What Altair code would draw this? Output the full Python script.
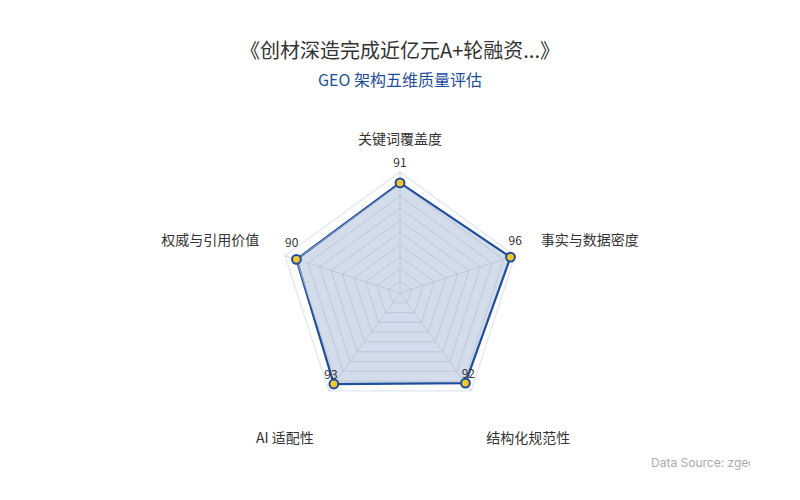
import altair as alt
import pandas as pd

# ---- data ----
categories = ["关键词覆盖度", "事实与数据密度", "结构化规范性", "AI 适配性", "权威与引用价值"]
scores = [91, 96, 92, 93, 90]
grid_levels = [10, 20, 30, 40, 50, 60, 70, 80, 90, 100]
title_text = "《创材深造完成近亿元A+轮融资...》"
subtitle_text = "GEO 架构五维质量评估"
source_text = "Data Source: zgeo.cn"

# ---- styles ----
K = 1.21            # px per score unit
R_LAB = 150         # px, radius of axis-name labels
FONT = "Noto Sans CJK SC"
BLUE = "#1f4e9c"
YELLOW = "#f5c629"
W, H = 742, 392
CX, CY = 392, 193   # center of radar within plot area (px)

xs = alt.Scale(domain=[-CX, W - CX], nice=False, zero=False)
ys = alt.Scale(domain=[-(H - CY), CY], nice=False, zero=False)

df = pd.DataFrame({"cat": categories, "v": scores, "i": range(len(categories))})
grid = pd.DataFrame(
    [{"level": L, "i": i} for L in grid_levels for i in range(len(categories))]
)
spokes = pd.DataFrame({"i": range(len(categories))})

theta = "PI/2 - datum.i*2*PI/5"

def X(field, name="x"):
    return alt.X(f"{name}:Q", scale=xs, axis=None)

def Y(name="y"):
    return alt.Y(f"{name}:Q", scale=ys, axis=None)

base_grid = alt.Chart(grid).transform_calculate(
    t=theta
).transform_calculate(
    x=f"datum.level*{K}*cos(datum.t)", y=f"datum.level*{K}*sin(datum.t)"
)

rings_inner = base_grid.transform_filter("datum.level < 100").mark_line(
    interpolate="linear-closed", stroke="#b9c2d4", strokeWidth=0.8
).encode(x=X("x"), y=Y(), detail="level:N", order="i:Q")

ring_outer = base_grid.transform_filter("datum.level == 100").mark_line(
    interpolate="linear-closed", stroke="#dfe6f2", strokeWidth=1.2
).encode(x=X("x"), y=Y(), detail="level:N", order="i:Q")

spoke = alt.Chart(spokes).transform_calculate(
    t=theta
).transform_calculate(
    x0="0", y0="0", x=f"100*{K}*cos(datum.t)", y=f"100*{K}*sin(datum.t)"
).mark_rule(stroke="#b9c2d4", strokeWidth=0.8).encode(
    x=alt.X("x0:Q", scale=xs, axis=None), y=alt.Y("y0:Q", scale=ys, axis=None),
    x2="x:Q", y2="y:Q"
)

base = alt.Chart(df).transform_calculate(t=theta).transform_calculate(
    x=f"datum.v*{K}*cos(datum.t)",
    y=f"datum.v*{K}*sin(datum.t)",
    lx=f"datum.v*{K}*cos(datum.t) + 5*cos(datum.t)",
    ly=f"datum.v*{K}*sin(datum.t) + 14 + 6*sin(datum.t)",
    ax=f"{R_LAB}*cos(datum.t)",
    ay=f"{R_LAB}*sin(datum.t) + (sin(datum.t) < -0.5 ? -25 : (sin(datum.t) > 0.9 ? 3 : 6))",
    c="cos(datum.t)",
)

area = base.mark_line(
    interpolate="linear-closed", fill=BLUE, fillOpacity=0.2,
    stroke=BLUE, strokeWidth=2.2
).encode(x=X("x"), y=Y(), order="i:Q")

points = base.mark_circle(
    fill=YELLOW, stroke=BLUE, strokeWidth=2, size=78, opacity=1
).encode(x=X("x"), y=Y())

vlabels = base.mark_text(
    font=FONT, fontSize=12, color="#333333", baseline="middle", align="center"
).encode(x=X("lx", "lx"), y=Y("ly"), text="v:Q")

def name_layer(flt, align, dx):
    return base.transform_filter(flt).mark_text(
        font=FONT, fontSize=14, color="#333333", baseline="middle",
        align=align, dx=dx
    ).encode(x=X("ax", "ax"), y=Y("ay"), text="cat:N")

names_r = name_layer("datum.c > 0.1", "left", -2)
names_l = name_layer("datum.c < -0.1", "right", 2)
names_c = name_layer("abs(datum.c) <= 0.1", "center", 0)

source = alt.Chart(pd.DataFrame({"s": [source_text]})).mark_text(
    font="Inter", fontSize=12, color="#aaaaaa", align="left",
    baseline="middle", clip=True
).encode(x=alt.value(643), y=alt.value(363), text="s:N")

chart = alt.layer(
    area, rings_inner, ring_outer, spoke, points, vlabels,
    names_r, names_l, names_c, source
).properties(
    width=W, height=H,
    title=alt.TitleParams(
        text=title_text, subtitle=subtitle_text, anchor="middle", frame="group",
        dx=21, offset=11, font=FONT, fontSize=20, fontWeight="normal",
        color="#333333", subtitleFont=FONT, subtitleFontSize=16,
        subtitleColor=BLUE, subtitlePadding=11,
    ),
    autosize=alt.AutoSizeParams(type="none"),
    padding={"left": 0, "top": 92, "right": 0, "bottom": 0},
).configure_view(stroke=None)

chart.save("out.html", embed_options={"renderer": "svg", "actions": False})
